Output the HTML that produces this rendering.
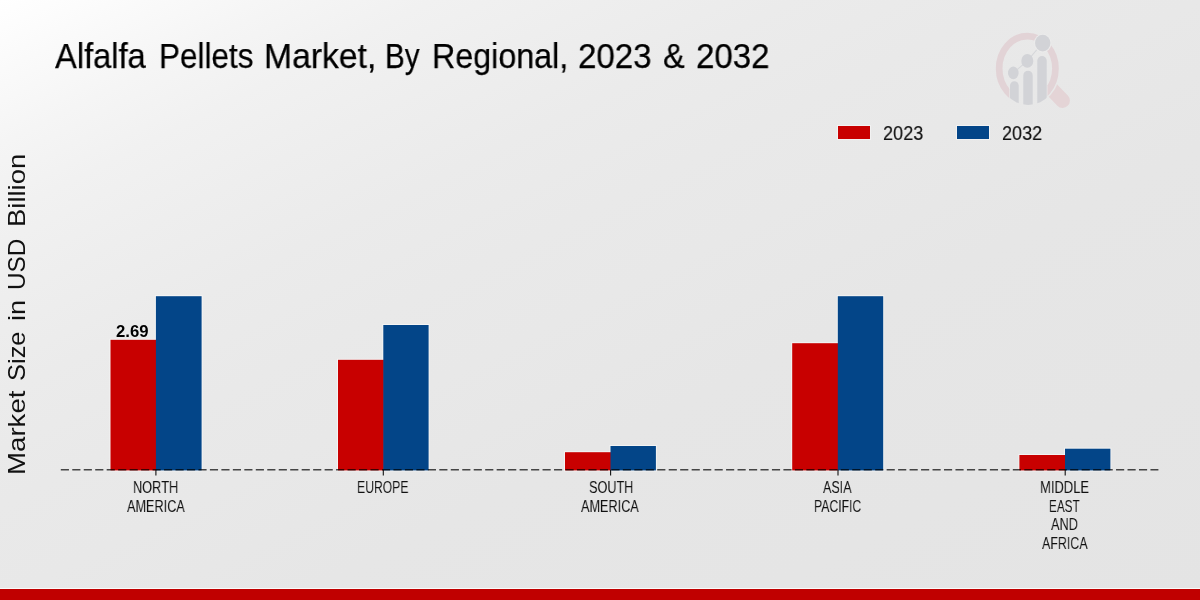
<!DOCTYPE html>
<html><head><meta charset="utf-8"><title>Alfalfa Pellets Market, By Regional, 2023 &amp; 2032</title>
<style>
html,body{margin:0;padding:0}
body{width:1200px;height:600px;overflow:hidden;position:relative;font-family:"Liberation Sans",sans-serif;
background:linear-gradient(to bottom right,#ffffff 0%,#fafafa 6%,#f5f5f5 12%,#f1f1f1 18%,#eeeeee 25%,#ebebeb 33%,#e9e9e9 42%,#e8e8e8 50%,#e6e6e6 62%,#e4e4e4 100%)}
svg{position:absolute;left:0;top:0}
.t{position:absolute;white-space:nowrap;line-height:0;transform-origin:0 0;will-change:transform;font-family:"Liberation Sans",sans-serif}
</style></head><body>
<svg width="1200" height="600" viewBox="0 0 1200 600">
<defs>
<clipPath id="lens"><ellipse cx="1028.2" cy="68.6" rx="31.3" ry="36.3"/></clipPath>
<mask id="outside" maskUnits="userSpaceOnUse" x="980" y="20" width="110" height="100">
<rect x="980" y="20" width="110" height="100" fill="#fff"/>
<ellipse cx="1027.3" cy="68.6" rx="33" ry="37.4" fill="#000"/>
</mask>
<mask id="ringcut" maskUnits="userSpaceOnUse" x="980" y="20" width="110" height="100">
<rect x="980" y="20" width="110" height="100" fill="#fff"/>
<rect x="1009.3" y="86" width="38.2" height="30" fill="#000"/>
</mask>
</defs>
<g id="logo">
<line x1="1050" y1="87.5" x2="1062.6" y2="100.6" stroke="#e4d4d6" stroke-width="14.6" stroke-linecap="round" mask="url(#outside)"/>
<ellipse cx="1027.3" cy="68.6" rx="28.15" ry="32.45" fill="none" stroke="#e2d3d6" stroke-width="6.7" mask="url(#ringcut)"/>
<g clip-path="url(#lens)" fill="#d2d3d7">
<path d="M1010 110V85.6a4.35 4.35 0 0 1 8.7 0V110z"/>
<path d="M1023.3 110V75.4a4.7 4.7 0 0 1 9.4 0V110z"/>
<path d="M1037.3 110V60.7a4.7 4.7 0 0 1 9.4 0V110z"/>
</g>
<path d="M1013.3 72.9L1027.3 60.9L1042.9 42.7" fill="none" stroke="#d6d7da" stroke-width="1.05"/>
<ellipse cx="1042.7" cy="43.1" rx="8.7" ry="9.3" fill="#ebebeb"/>
<ellipse cx="1042.7" cy="43.1" rx="7.7" ry="8.3" fill="#d2d3d7"/>
<ellipse cx="1027.3" cy="60.9" rx="6" ry="6.9" fill="#d2d3d7"/>
<ellipse cx="1013.3" cy="72.9" rx="5.3" ry="6.3" fill="#d2d3d7"/>
</g>

<rect x="109.5" y="338.8" width="47.4" height="132.6" fill="#fff" fill-opacity="0.5"/>
<rect x="154.9" y="295.2" width="47.7" height="176.2" fill="#fff" fill-opacity="0.5"/>
<rect x="337.0" y="358.8" width="47.3" height="112.6" fill="#fff" fill-opacity="0.5"/>
<rect x="382.3" y="324.0" width="47.3" height="147.4" fill="#fff" fill-opacity="0.5"/>
<rect x="564.0" y="451.2" width="47.5" height="20.2" fill="#fff" fill-opacity="0.5"/>
<rect x="609.5" y="445.0" width="47.4" height="26.4" fill="#fff" fill-opacity="0.5"/>
<rect x="791.2" y="342.2" width="47.6" height="129.2" fill="#fff" fill-opacity="0.5"/>
<rect x="836.8" y="295.2" width="47.4" height="176.2" fill="#fff" fill-opacity="0.5"/>
<rect x="1018.4" y="454.0" width="47.6" height="17.4" fill="#fff" fill-opacity="0.5"/>
<rect x="1064.0" y="447.7" width="47.4" height="23.7" fill="#fff" fill-opacity="0.5"/>
<rect x="837" y="125" width="34" height="15" fill="#fff" fill-opacity="0.45"/>
<rect x="956" y="125" width="34" height="15" fill="#fff" fill-opacity="0.45"/>
<rect x="110.5" y="339.8" width="46.0" height="130.6" fill="#c80000"/>
<rect x="155.9" y="296.2" width="45.7" height="174.2" fill="#034588"/>
<rect x="338.0" y="359.8" width="45.9" height="110.6" fill="#c80000"/>
<rect x="383.3" y="325.0" width="45.3" height="145.4" fill="#034588"/>
<rect x="565.0" y="452.2" width="46.1" height="18.2" fill="#c80000"/>
<rect x="610.5" y="446.0" width="45.4" height="24.4" fill="#034588"/>
<rect x="792.2" y="343.2" width="46.2" height="127.2" fill="#c80000"/>
<rect x="837.8" y="296.2" width="45.4" height="174.2" fill="#034588"/>
<rect x="1019.4" y="455.0" width="46.2" height="15.4" fill="#c80000"/>
<rect x="1065.0" y="448.7" width="45.4" height="21.7" fill="#034588"/>
<line x1="60.8" y1="469.8" x2="1158.4" y2="469.8" stroke="#000" stroke-opacity="0.7" stroke-width="1.4" stroke-dasharray="8.15 3.32"/>
<line x1="155.9" y1="469.7" x2="155.9" y2="475.5" stroke="#111" stroke-width="1.1"/>
<line x1="383.3" y1="469.7" x2="383.3" y2="475.5" stroke="#111" stroke-width="1.1"/>
<line x1="610.6" y1="469.7" x2="610.6" y2="475.5" stroke="#111" stroke-width="1.1"/>
<line x1="838.0" y1="469.7" x2="838.0" y2="475.5" stroke="#111" stroke-width="1.1"/>
<line x1="1065.2" y1="469.7" x2="1065.2" y2="475.5" stroke="#111" stroke-width="1.1"/>
<rect x="838" y="126" width="32" height="13" fill="#c80000"/>
<rect x="957" y="126" width="32" height="13" fill="#034588"/>
<rect x="0" y="588" width="1200" height="1" fill="#fafafa"/>
<rect x="0" y="589" width="1200" height="11" fill="#c00000"/>
</svg>
<span class="t" style="left:55.00px;top:56.46px;font-size:35.6px;-webkit-text-stroke:0.25px #000;color:#000;transform:scaleX(0.9183)">Alfalfa</span>
<span class="t" style="left:159.23px;top:56.46px;font-size:35.6px;-webkit-text-stroke:0.25px #000;color:#000;transform:scaleX(0.8846)">Pellets</span>
<span class="t" style="left:263.71px;top:56.46px;font-size:35.6px;-webkit-text-stroke:0.25px #000;color:#000;transform:scaleX(0.9470)">Market,</span>
<span class="t" style="left:385.23px;top:56.46px;font-size:35.6px;-webkit-text-stroke:0.25px #000;color:#000;transform:scaleX(0.8331)">By</span>
<span class="t" style="left:432.39px;top:56.46px;font-size:35.6px;-webkit-text-stroke:0.25px #000;color:#000;transform:scaleX(0.9062)">Regional,</span>
<span class="t" style="left:578.07px;top:56.46px;font-size:35.6px;-webkit-text-stroke:0.25px #000;color:#000;transform:scaleX(0.9307)">2023</span>
<span class="t" style="left:663.09px;top:56.46px;font-size:35.6px;-webkit-text-stroke:0.25px #000;color:#000;transform:scaleX(0.9130)">&amp;</span>
<span class="t" style="left:696.07px;top:56.46px;font-size:35.6px;-webkit-text-stroke:0.25px #000;color:#000;transform:scaleX(0.9298)">2032</span>
<span class="t" style="left:882.69px;top:133.37px;font-size:20.0px;-webkit-text-stroke:0.15px #111111;color:#111111;transform:scaleX(0.9085)">2023</span>
<span class="t" style="left:1001.50px;top:133.37px;font-size:20.0px;-webkit-text-stroke:0.15px #111111;color:#111111;transform:scaleX(0.9039)">2032</span>
<span class="t" style="left:116.40px;top:331.59px;font-size:15.6px;font-weight:700;color:#000;transform:scaleX(1.0724)">2.69</span>
<span class="t" style="left:133.02px;top:487.12px;font-size:16.4px;color:#111111;transform:scaleX(0.7784)">NORTH</span>
<span class="t" style="left:127.00px;top:505.72px;font-size:16.4px;color:#111111;transform:scaleX(0.7733)">AMERICA</span>
<span class="t" style="left:357.26px;top:487.12px;font-size:16.4px;color:#111111;transform:scaleX(0.7439)">EUROPE</span>
<span class="t" style="left:588.50px;top:487.12px;font-size:16.4px;color:#111111;transform:scaleX(0.7730)">SOUTH</span>
<span class="t" style="left:581.00px;top:505.72px;font-size:16.4px;color:#111111;transform:scaleX(0.7733)">AMERICA</span>
<span class="t" style="left:823.20px;top:487.12px;font-size:16.4px;color:#111111;transform:scaleX(0.7643)">ASIA</span>
<span class="t" style="left:813.75px;top:505.72px;font-size:16.4px;color:#111111;transform:scaleX(0.7460)">PACIFIC</span>
<span class="t" style="left:1039.91px;top:487.12px;font-size:16.4px;color:#111111;transform:scaleX(0.7918)">MIDDLE</span>
<span class="t" style="left:1048.78px;top:505.72px;font-size:16.4px;color:#111111;transform:scaleX(0.7178)">EAST</span>
<span class="t" style="left:1050.70px;top:524.32px;font-size:16.4px;color:#111111;transform:scaleX(0.7765)">AND</span>
<span class="t" style="left:1042.20px;top:542.92px;font-size:16.4px;color:#111111;transform:scaleX(0.7578)">AFRICA</span>
<span class="t" style="left:16.82px;top:475.37px;font-size:23.6px;color:#111111;transform:rotate(-90deg) scaleX(1.1712)">Market</span>
<span class="t" style="left:16.82px;top:381.08px;font-size:23.6px;color:#111111;transform:rotate(-90deg) scaleX(1.0787)">Size</span>
<span class="t" style="left:16.82px;top:321.15px;font-size:23.6px;color:#111111;transform:rotate(-90deg) scaleX(1.1514)">in</span>
<span class="t" style="left:16.82px;top:290.23px;font-size:23.6px;color:#111111;transform:rotate(-90deg) scaleX(1.0298)">USD</span>
<span class="t" style="left:16.82px;top:226.96px;font-size:23.6px;color:#111111;transform:rotate(-90deg) scaleX(1.1640)">Billion</span>
</body></html>
